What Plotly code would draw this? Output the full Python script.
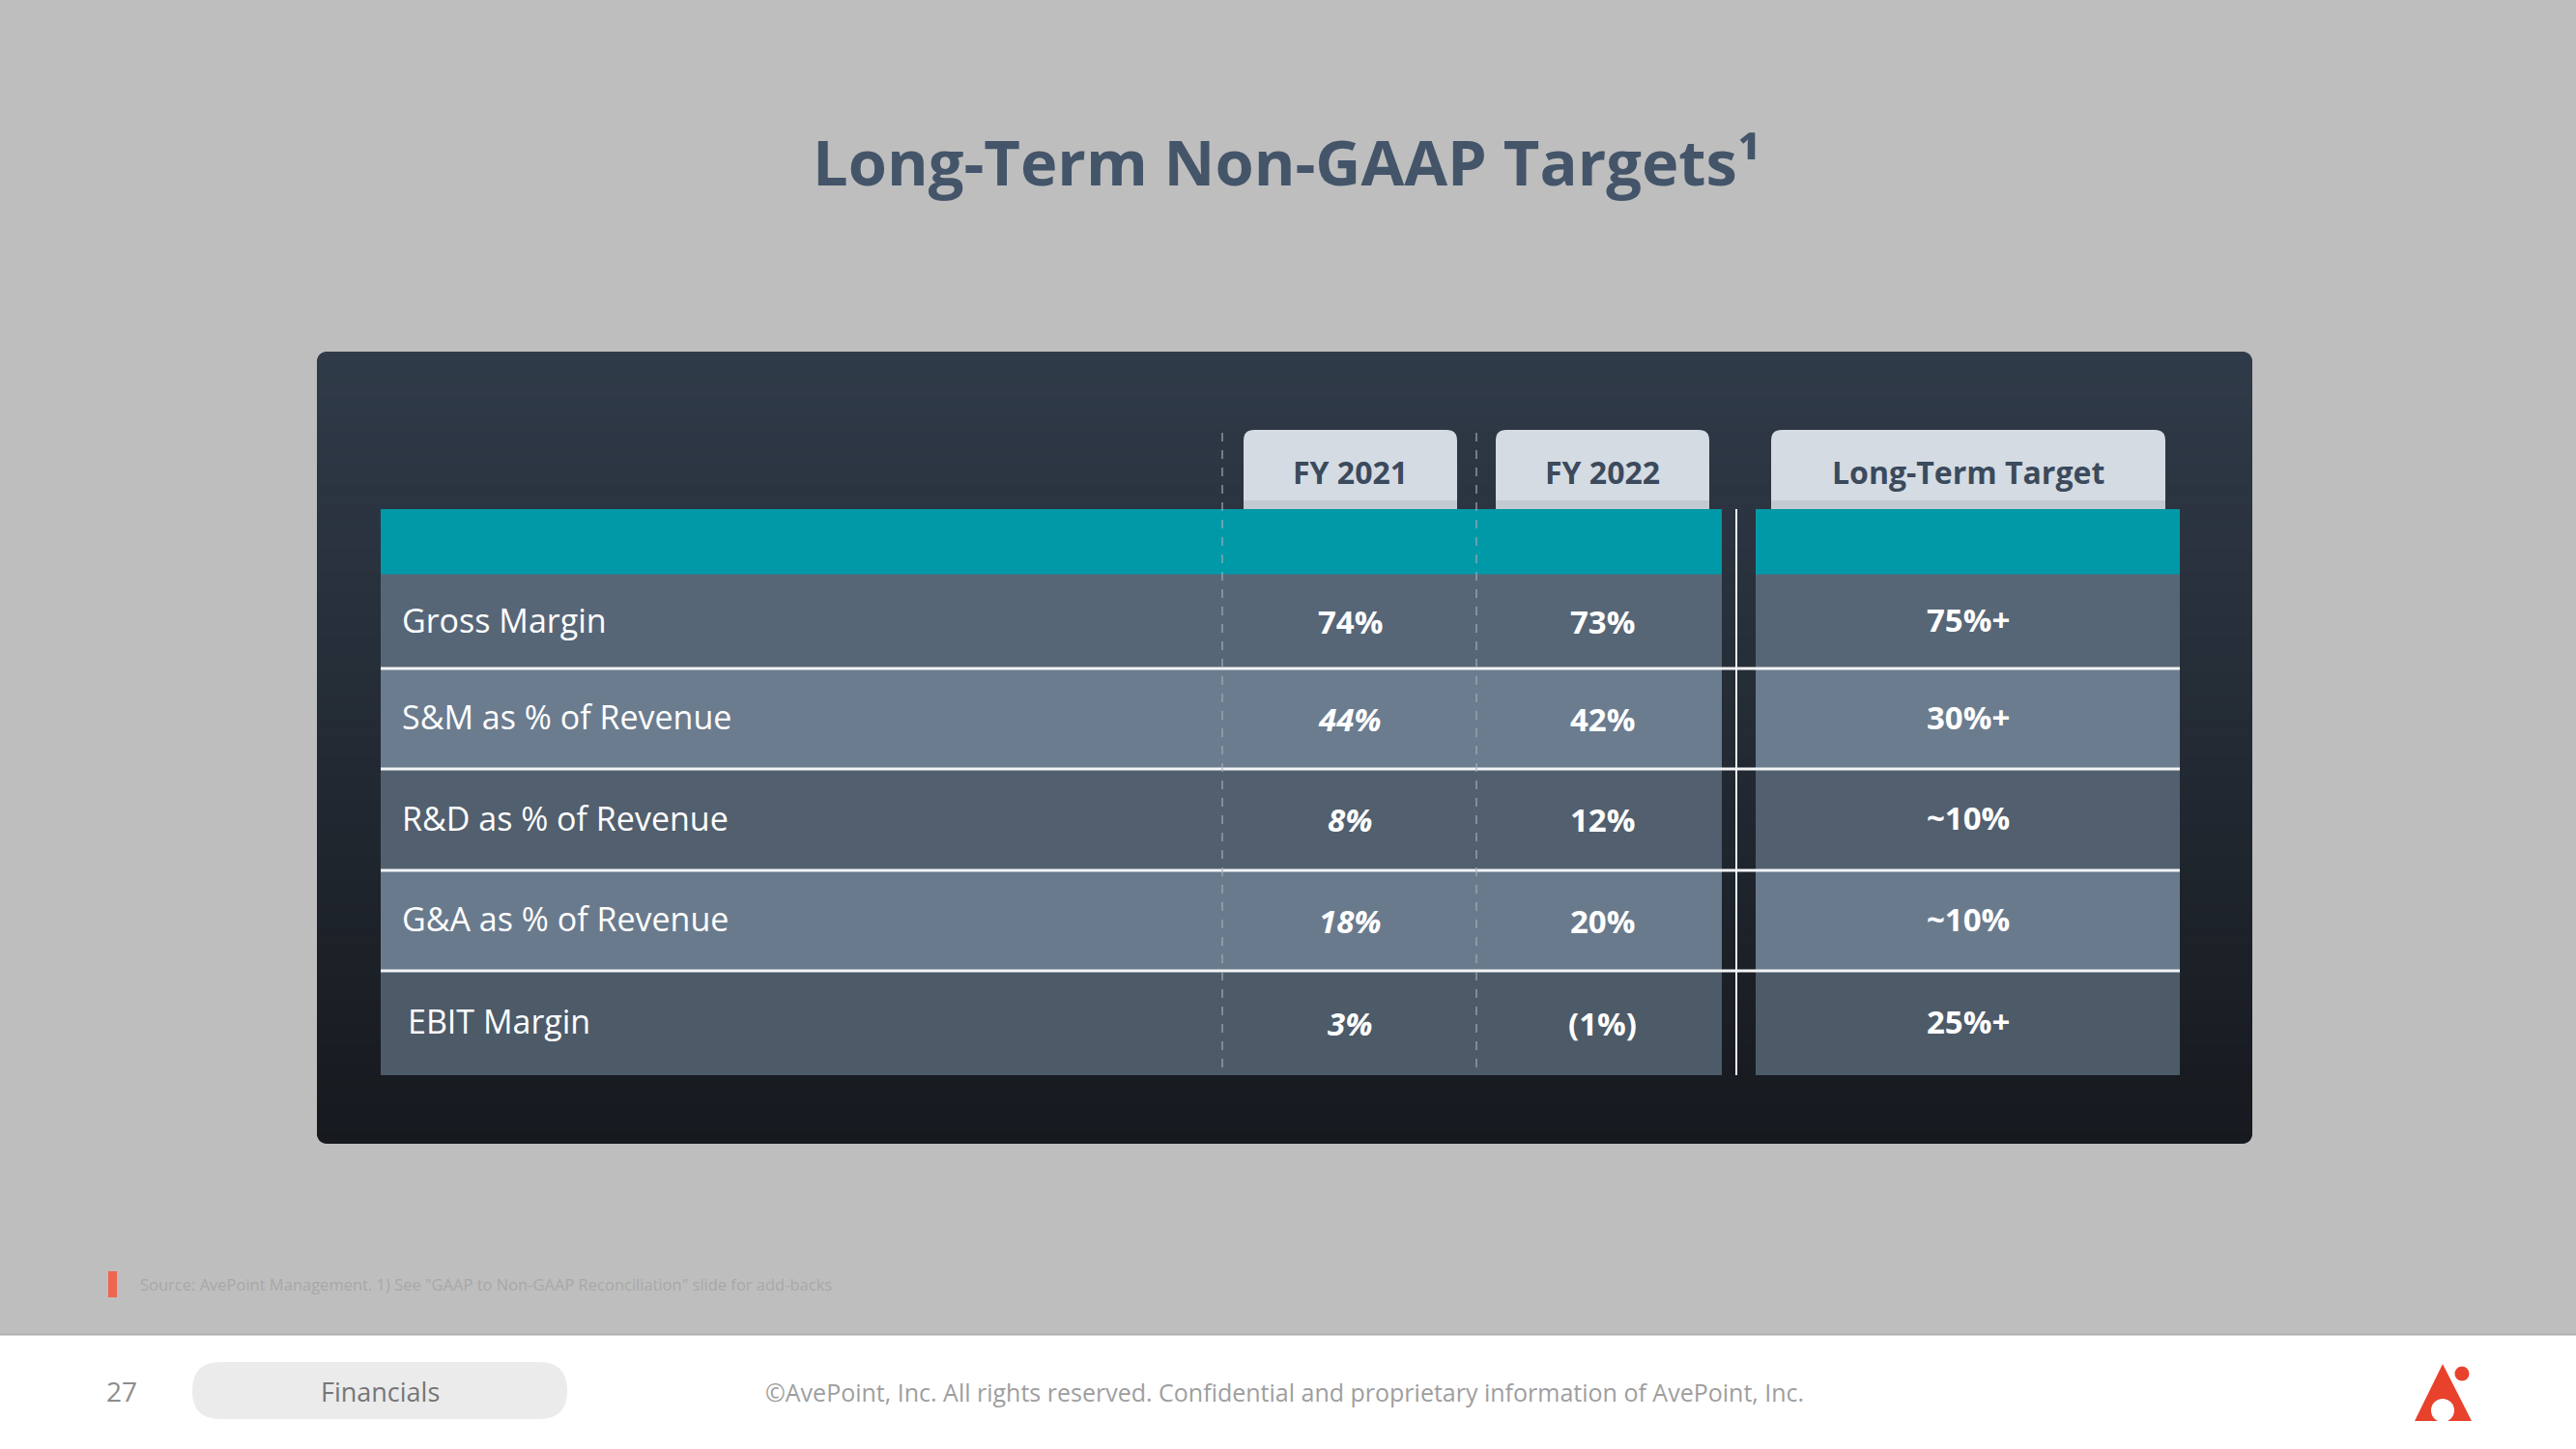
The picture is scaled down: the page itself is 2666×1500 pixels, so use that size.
import plotly.graph_objects as go

# ---------------- data ----------------
title_text = "Long-Term Non-GAAP Targets¹"
columns = ["FY 2021", "FY 2022", "Long-Term Target"]
metrics = ["Gross Margin", "S&M as % of Revenue", "R&D as % of Revenue",
           "G&A as % of Revenue", "EBIT Margin"]
fy2021_pct = [74, 44, 8, 18, 3]
fy2022_pct = [73, 42, 12, 20, -1]
long_term_target = ["75%+", "30%+", "~10%", "~10%", "25%+"]
source_note = 'Source: AvePoint Management. 1) See "GAAP to Non-GAAP Reconciliation" slide for add-backs'
page_number = "27"
section_name = "Financials"
copyright_text = "©AvePoint, Inc. All rights reserved. Confidential and proprietary information of AvePoint, Inc."

# ---------------- style / layout ----------------
W, H = 2666, 1500
FONT = "Open Sans"
fy2021_italic = [False, True, True, True, True]
row_edges = [595, 692, 796, 901, 1005, 1113]
row_colors = ["#576677", "#6b7c8f", "#525f6e", "#6a7a8d", "#4d5a68"]
label_indent = [0, 0, 0, 0, 6]
col_centers = [1397, 1658, 2037]
tab_spans = [(1287, 1508), (1548, 1769), (1833, 2241)]
left_tbl = (394, 1782)
right_tbl = (1817, 2256)
teal_top, teal_bot = 527, 595


def fmt_pct(v):
    return f"({abs(v)}%)" if v < 0 else f"{v}%"


def rrect(x0, y0, x1, y1, r, top_only=False):
    if top_only:
        return (f"M{x0},{y1} L{x0},{y0 + r} Q{x0},{y0} {x0 + r},{y0} "
                f"L{x1 - r},{y0} Q{x1},{y0} {x1},{y0 + r} L{x1},{y1} Z")
    return (f"M{x0 + r},{y0} L{x1 - r},{y0} Q{x1},{y0} {x1},{y0 + r} "
            f"L{x1},{y1 - r} Q{x1},{y1} {x1 - r},{y1} L{x0 + r},{y1} "
            f"Q{x0},{y1} {x0},{y1 - r} L{x0},{y0 + r} Q{x0},{y0} {x0 + r},{y0} Z")


def lerp(c0, c1, t):
    return "rgb(%d,%d,%d)" % tuple(round(a + (b - a) * t) for a, b in zip(c0, c1))


shapes = []
ann = []

# background + footer
shapes.append(dict(type="rect", x0=0, x1=W, y0=0, y1=1381, fillcolor="#bebebe", line_width=0, layer="below"))
shapes.append(dict(type="rect", x0=0, x1=W, y0=1381, y1=H, fillcolor="#ffffff", line_width=0, layer="below"))
shapes.append(dict(type="line", x0=0, x1=W, y0=1381.5, y1=1381.5, line=dict(color="#b0b0b0", width=2)))

# panel with vertical gradient
px0, px1, py0, py1, pr = 328, 2331, 364, 1184, 12
ctop, cbot = (48, 59, 73), (22, 25, 30)
shapes.append(dict(type="path", path=rrect(px0, py0, px1, py1, pr), fillcolor=lerp(ctop, cbot, 0.5), line_width=0))
shapes.append(dict(type="path", path=rrect(px0, py0, px1, py0 + 3 * pr, pr), fillcolor=lerp(ctop, cbot, 0), line_width=0))
shapes.append(dict(type="path", path=rrect(px0, py1 - 3 * pr, px1, py1, pr), fillcolor=lerp(ctop, cbot, 1), line_width=0))
n = 70
gy0, gy1 = py0 + pr, py1 - pr
for i in range(n):
    a = gy0 + (gy1 - gy0) * i / n
    b = gy0 + (gy1 - gy0) * (i + 1) / n
    t = ((a + b) / 2 - py0) / (py1 - py0)
    shapes.append(dict(type="rect", x0=px0, x1=px1, y0=a, y1=b + 0.8, fillcolor=lerp(ctop, cbot, t), line_width=0))

# header tabs
for (x0, x1) in tab_spans:
    shapes.append(dict(type="path", path=rrect(x0, 445, x1, teal_top, 11, top_only=True), fillcolor="#d4dbe2", line_width=0))
    shapes.append(dict(type="rect", x0=x0, x1=x1, y0=518, y1=teal_top, fillcolor="#c3cad1", line_width=0))

# teal bands
shapes.append(dict(type="rect", x0=left_tbl[0], x1=left_tbl[1], y0=teal_top, y1=teal_bot, fillcolor="#0099a8", line_width=0))
shapes.append(dict(type="rect", x0=right_tbl[0], x1=right_tbl[1], y0=teal_top, y1=teal_bot, fillcolor="#0099a8", line_width=0))

# rows
for i in range(len(metrics)):
    y0, y1 = row_edges[i], row_edges[i + 1]
    for (x0, x1) in (left_tbl, right_tbl):
        shapes.append(dict(type="rect", x0=x0, x1=x1, y0=y0 - 0.5, y1=y1, fillcolor=row_colors[i], line_width=0))

# separators
for y in row_edges[1:-1]:
    shapes.append(dict(type="line", x0=left_tbl[0], x1=right_tbl[1], y0=y, y1=y, line=dict(color="#f2f4f6", width=3)))
shapes.append(dict(type="line", x0=1797, x1=1797, y0=teal_top, y1=row_edges[-1], line=dict(color="#f2f4f6", width=2)))
for x in (1265, 1528):
    shapes.append(dict(type="line", x0=x, x1=x, y0=448, y1=row_edges[-1], line=dict(color="#a3adb8", width=1.2, dash="dash")))

# source marker, pill, logo
shapes.append(dict(type="rect", x0=112, x1=121, y0=1316, y1=1343, fillcolor="#ef6650", line_width=0))
shapes.append(dict(type="path", path=rrect(199, 1410, 587, 1469, 29), fillcolor="#ebebeb", line_width=0))
shapes.append(dict(type="path", path="M2528,1412 L2558,1471 L2499,1471 Z", fillcolor="#e8412c", line_width=0))
shapes.append(dict(type="circle", x0=2516, x1=2540, y0=1448, y1=1472, fillcolor="#ffffff", line_width=0))
shapes.append(dict(type="circle", x0=2540.5, x1=2555.5, y0=1414.5, y1=1429.5, fillcolor="#e8412c", line_width=0))

# ---------------- text ----------------
ann.append(dict(x=1331, y=167, text=f"<b>{title_text}</b>", font=dict(family=FONT, size=65, color="#44556a")))
for c, (x0, x1) in zip(columns, tab_spans):
    ann.append(dict(x=(x0 + x1) / 2, y=488, text=f"<b>{c}</b>", font=dict(family=FONT, size=32, color="#3b4a5c")))

for i, m in enumerate(metrics):
    yc = (row_edges[i] + row_edges[i + 1]) / 2 - 2
    ann.append(dict(x=414 + label_indent[i], y=yc, text=m, xanchor="left", font=dict(family=FONT, size=34, color="#ffffff")))
    v1 = f"<b>{fmt_pct(fy2021_pct[i])}</b>"
    if fy2021_italic[i]:
        v1 = f"<i>{v1}</i>"
    ann.append(dict(x=col_centers[0], y=yc + 2, text=v1, font=dict(family=FONT, size=33, color="#ffffff")))
    ann.append(dict(x=col_centers[1], y=yc + 2, text=f"<b>{fmt_pct(fy2022_pct[i])}</b>", font=dict(family=FONT, size=33, color="#ffffff")))
    ann.append(dict(x=col_centers[2], y=yc, text=f"<b>{long_term_target[i]}</b>", font=dict(family=FONT, size=33, color="#ffffff")))

ann.append(dict(x=143, y=1329, text=source_note, xanchor="left", font=dict(family=FONT, size=16.5, color="#a8a8a8")))
ann.append(dict(x=126, y=1440, text=page_number, font=dict(family=FONT, size=28, color="#8c8c8c")))
ann.append(dict(x=393, y=1440, text=section_name, font=dict(family=FONT, size=27, color="#767676")))
ann.append(dict(x=1329, y=1441, text=copyright_text, font=dict(family=FONT, size=25, color="#9e9e9e")))

for a in ann:
    a.update(xref="x", yref="y", showarrow=False)
    a.setdefault("xanchor", "center")
    a.setdefault("yanchor", "middle")

fig = go.Figure()
fig.update_layout(
    width=W, height=H, margin=dict(l=0, r=0, t=0, b=0),
    paper_bgcolor="#bebebe", plot_bgcolor="#bebebe",
    xaxis=dict(range=[0, W], visible=False, fixedrange=True),
    yaxis=dict(range=[H, 0], visible=False, fixedrange=True),
    shapes=shapes, annotations=ann, showlegend=False,
)
fig.write_html("out.html", config={"displayModeBar": False},
               post_script="document.body.style.margin='0';document.body.style.overflow='hidden';")
